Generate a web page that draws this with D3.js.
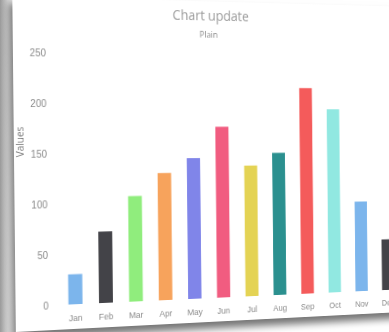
<!DOCTYPE html>
<html>
<head>
<meta charset="utf-8">
<script src="https://cdn.jsdelivr.net/npm/d3@7"></script>
<style>
  body { margin: 0; width: 389px; height: 332px; overflow: hidden; background: #fff;
         font-family: "Open Sans", "Liberation Sans", sans-serif; }
  #stage { position: absolute; left: 0; top: 0; width: 389px; height: 332px;
           background: linear-gradient(to right, #9a9a9a 0px, #d8d8d8 8px, #f4f4f4 14px, #fff 20px); }
  #card { position: absolute; left: 14px; top: -4px; width: 470px; height: 336px;
          background: #fff;
          box-shadow: -3px 7px 8px rgba(0,0,0,0.55);
          transform-origin: 0 161px;
          transform: perspective(900px) rotateZ(-0.6deg) rotateY(12deg);
          filter: blur(0.4px); }
</style>
</head>
<body>
<div id="stage"><div id="card"></div></div>
<script>
let months = ["Jan","Feb","Mar","Apr","May","Jun","Jul","Aug","Sep","Oct","Nov","Dec"];
let values = [29.9, 71.5, 106.4, 129.2, 144.0, 176.0, 135.6, 148.5, 216.4, 194.1, 95.6, 54.4];
let colors = ["#7cb5ec","#434348","#90ed7d","#f7a35c","#8085e9","#f15c80",
              "#e4d354","#2b908f","#f45b5b","#91e8e1","#7cb5ec","#434348"];
let yTicks = [0, 50, 100, 150, 200, 250];

let width = 470, height = 336;
let plotLeft = 46, plotRight = 434, plotTop = 56, plotBottom = 311;

let svg = d3.select("#card").append("svg")
	.attr("width", width)
	.attr("height", height);

let x = d3.scaleBand()
	.domain(months)
	.range([plotLeft, plotRight])
	.paddingInner(0.54)
	.paddingOuter(0.27);

let y = d3.scaleLinear()
	.domain([0, 250])
	.range([plotBottom, plotTop]);

svg.selectAll("rect.bar")
	.data(values)
	.enter().append("rect")
	.attr("class", "bar")
	.attr("x", function(d, i) { return x(months[i]); })
	.attr("y", function(d) { return y(d); })
	.attr("width", x.bandwidth())
	.attr("height", function(d) { return plotBottom - y(d); })
	.attr("fill", function(d, i) { return colors[i]; });

// axes
let yAxis = svg.append("g")
	.attr("transform", "translate(" + (plotLeft - 8) + ",0)")
	.call(d3.axisLeft(y).tickValues(yTicks).tickSize(0).tickPadding(4));
yAxis.select(".domain").remove();
yAxis.selectAll("text").style("font-size", "10px").attr("fill", "#8a8a8a");

let xAxis = svg.append("g")
	.attr("transform", "translate(0," + plotBottom + ")")
	.call(d3.axisBottom(x).tickSize(0).tickPadding(11));
xAxis.select(".domain").remove();
xAxis.selectAll("text").style("font-size", "9px").attr("fill", "#8a8a8a");

// title
svg.append("text")
	.attr("x", 213)
	.attr("y", 20)
	.style("text-anchor", "middle")
	.style("font-size", "14px")
	.attr("fill", "#9a9a9a")
	.text("Chart update");

svg.append("text")
	.attr("x", 210)
	.attr("y", 38)
	.style("text-anchor", "middle")
	.style("font-size", "9px")
	.attr("fill", "#8a8a8a")
	.text("Plain");

// y-axis label
svg.append("text")
	.attr("x", -146)
	.attr("y", 10)
	.attr("transform", "rotate(-90)")
	.style("text-anchor", "middle")
	.style("font-size", "10px")
	.attr("fill", "#7a7a7a")
	.text("Values");
</script>
</body>
</html>
